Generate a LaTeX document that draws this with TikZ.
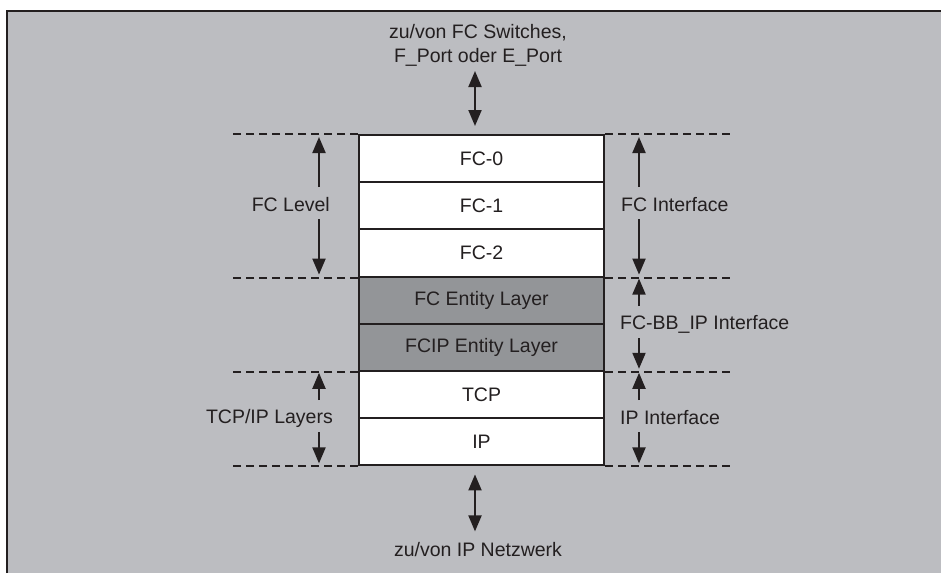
\documentclass[tikz,border=0pt]{standalone}
\usepackage{fontspec}
\setmainfont{Liberation Sans}
\usetikzlibrary{arrows.meta}
\definecolor{bggray}{HTML}{BCBDC1}
\definecolor{entgray}{HTML}{939598}
\definecolor{ink}{HTML}{231F20}
\tikzset{%
  every layer/.style={
    draw=ink,
    line width=2pt,
    fill=white,
    minimum width=245pt,
    minimum height=47.2pt,
    inner sep=0pt,
    text=ink,
    font=\fontsize{19.5}{24}\selectfont
  },
  layer entity/.style={
    fill=entgray
  },
  level line/.style={
    draw=ink,
    line width=2pt,
    dash pattern=on 8pt off 5pt
  },
  side label/.style={
    inner sep=0pt,
    text=ink,
    font=\fontsize{19.5}{24}\selectfont
  },
}

\begin{document}
\begin{tikzpicture}[x=1pt, y=-1pt, >={Triangle[length=16pt,width=13pt]}]
\useasboundingbox (0,0) rectangle (941,573);
\fill [bggray] (7,11) rectangle (941,573);
\draw [ink, line width=2pt] (7,573) |- (941,11);

\foreach \m/\l/\s [count=\y] in {fc0/FC-0/plain, fc1/FC-1/plain, fc2/FC-2/plain,
    fcent/FC Entity Layer/entity, fcipent/FCIP Entity Layer/entity,
    tcp/TCP/plain, ip/IP/plain}
  \node [every layer/.try, layer \s/.try] (\m) at (481.5,111.4+47.2*\y) {\l};

% level boundaries
\foreach \p/\q in {fc0.north west/fc0.north east, fc2.south west/fc2.south east,
    fcipent.south west/fcipent.south east, ip.south west/ip.south east} {
  \draw [level line] (\p) -- ++(-127,0);
  \draw [level line] (\q) -- ++(128,0);
}

\node [side label, anchor=east] (lvl-fc) at (330,205) {FC Level};
\node [side label, anchor=east] (lvl-tcpip) at (333,418) {TCP/IP Layers};
\node [side label, anchor=west] (if-fc) at (621,205) {FC Interface};
\node [side label, anchor=west] (if-fcbb) at (620,324) {FC-BB\_IP Interface};
\node [side label, anchor=west] (if-ip) at (620,418) {IP Interface};

\foreach \x/\t/\c/\b in {319/135/205/276.6, 639/135/205/276.6, 639/276.6/324/370.8,
    319/370.8/418/465.4, 639/370.8/418/465.4} {
  \draw [->, ink, line width=2pt] (\x,\c-18) -- (\x,\t+2);
  \draw [->, ink, line width=2pt] (\x,\c+14) -- (\x,\b-2);
}

\node [side label, align=center] (fc-switch) at (478,45)
  {zu/von FC Switches,\\F\_Port oder E\_Port};
\node [side label] (ip-net) at (478,550) {zu/von IP Netzwerk};

\draw [<->, ink, line width=2pt] ([xshift=-6.5pt,yshift=8pt]fc0.north) -- ++(0,-55);
\draw [<->, ink, line width=2pt] ([xshift=-6.5pt,yshift=-8pt]ip.south) -- ++(0,57);
\end{tikzpicture}
\end{document}
